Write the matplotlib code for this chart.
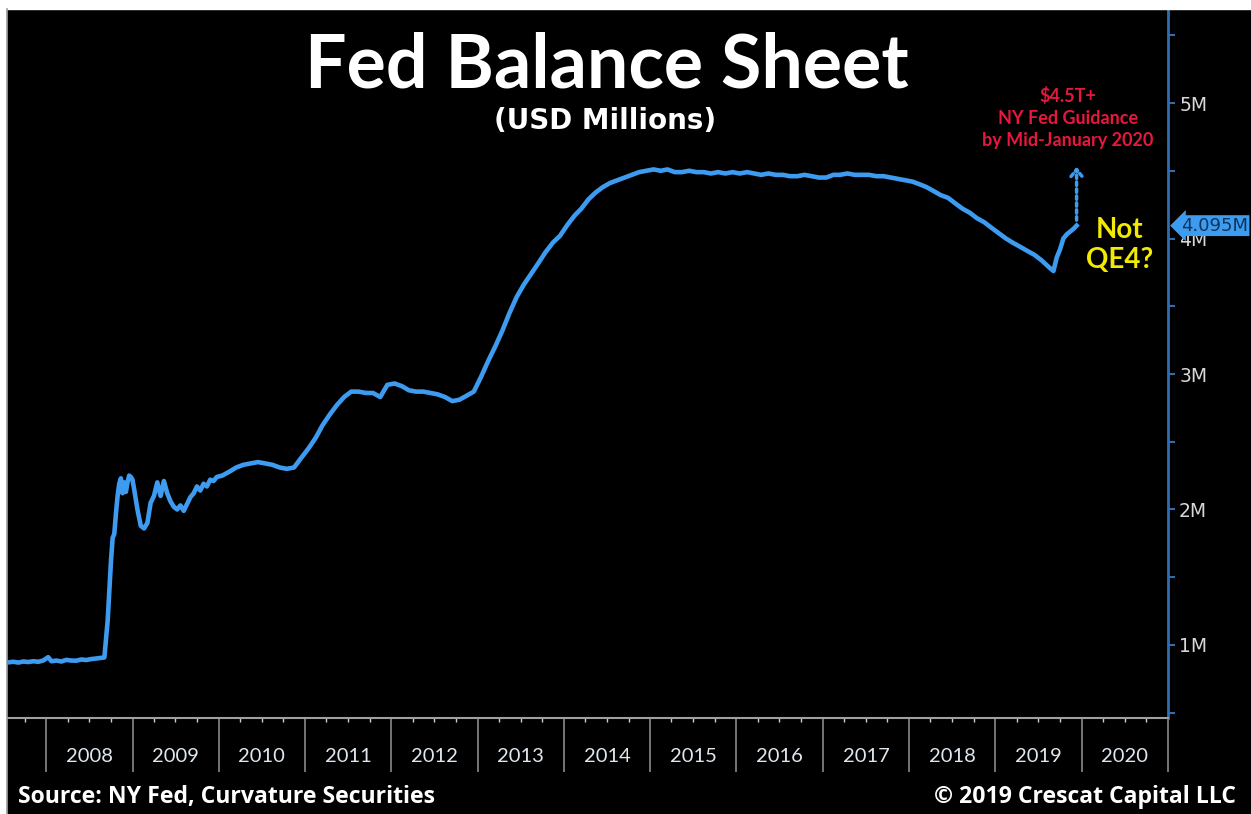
import numpy as np
import pandas as pd
import matplotlib
matplotlib.use("Agg")
import matplotlib.pyplot as plt
import matplotlib.dates as mdates
from matplotlib.patches import Rectangle
from matplotlib.lines import Line2D
from matplotlib.transforms import blended_transform_factory

# ---------- data (total assets, millions of USD millions) ----------
# crisis period, roughly weekly / bi-weekly readings
early_dates = [
    "2007-07-25", "2007-08-15", "2007-09-05", "2007-09-26", "2007-10-17",
    "2007-11-07", "2007-11-28", "2007-12-19", "2008-01-09", "2008-01-23",
    "2008-02-13", "2008-03-05", "2008-03-26", "2008-04-16", "2008-05-07",
    "2008-05-28", "2008-06-18", "2008-07-09", "2008-07-30", "2008-08-20",
    "2008-09-03", "2008-09-17", "2008-09-24", "2008-10-01", "2008-10-08",
    "2008-10-15", "2008-10-22", "2008-10-29", "2008-11-05", "2008-11-12",
    "2008-11-19", "2008-11-26", "2008-12-03", "2008-12-10", "2008-12-17",
    "2008-12-24", "2008-12-31", "2009-01-07", "2009-01-21", "2009-02-04",
    "2009-02-18", "2009-03-04", "2009-03-18", "2009-04-01", "2009-04-15",
    "2009-04-29", "2009-05-13", "2009-05-27", "2009-06-10", "2009-06-24",
    "2009-07-08", "2009-07-22", "2009-08-05", "2009-08-19", "2009-09-02",
    "2009-09-16", "2009-09-30", "2009-10-14", "2009-10-28", "2009-11-11",
    "2009-11-25", "2009-12-09", "2009-12-23",
]
early_values = [
    0.872, 0.876, 0.870, 0.878, 0.874,
    0.880, 0.876, 0.885, 0.910, 0.880,
    0.885, 0.878, 0.890, 0.885, 0.884,
    0.893, 0.889, 0.896, 0.900, 0.905,
    0.908, 1.18, 1.40, 1.62, 1.79,
    1.82, 1.97, 2.10, 2.19, 2.23,
    2.12, 2.20, 2.13, 2.20, 2.25,
    2.24, 2.22, 2.15, 2.00, 1.88,
    1.86, 1.90, 2.05, 2.10, 2.20,
    2.10, 2.21, 2.12, 2.06, 2.02,
    2.00, 2.03, 1.99, 2.04, 2.09,
    2.12, 2.17, 2.14, 2.19, 2.17,
    2.22, 2.21, 2.24,
]

# monthly readings, Jan 2010 - Aug 2019
monthly_values = [
    2.25, 2.28, 2.31, 2.33, 2.34, 2.35, 2.34, 2.33, 2.31, 2.30, 2.31, 2.38,   # 2010
    2.45, 2.53, 2.62, 2.70, 2.77, 2.83, 2.87, 2.87, 2.86, 2.86, 2.83, 2.92,   # 2011
    2.93, 2.91, 2.88, 2.87, 2.87, 2.86, 2.85, 2.83, 2.80, 2.81, 2.84, 2.87,   # 2012
    2.98, 3.10, 3.20, 3.32, 3.45, 3.57, 3.66, 3.74, 3.82, 3.90, 3.97, 4.02,   # 2013
    4.10, 4.17, 4.22, 4.29, 4.34, 4.38, 4.41, 4.43, 4.45, 4.47, 4.49, 4.50,   # 2014
    4.51, 4.50, 4.51, 4.49, 4.49, 4.50, 4.49, 4.49, 4.48, 4.49, 4.48, 4.49,   # 2015
    4.48, 4.49, 4.48, 4.47, 4.48, 4.47, 4.47, 4.46, 4.46, 4.47, 4.46, 4.45,   # 2016
    4.45, 4.47, 4.47, 4.48, 4.47, 4.47, 4.47, 4.46, 4.46, 4.45, 4.44, 4.43,   # 2017
    4.42, 4.40, 4.38, 4.35, 4.32, 4.30, 4.26, 4.22, 4.19, 4.15, 4.12, 4.08,   # 2018
    4.04, 4.00, 3.97, 3.94, 3.91, 3.88, 3.84, 3.79,                           # 2019
]

# repo operations restart the growth in late 2019
late_dates = ["2019-09-04", "2019-09-18", "2019-10-02", "2019-10-16",
              "2019-10-30", "2019-11-13", "2019-11-27", "2019-12-11"]
late_values = [3.76, 3.86, 3.92, 4.00, 4.03, 4.05, 4.07, 4.095]

last_value = late_values[-1]
guidance_value = 4.55

years = list(range(2008, 2021))
ytick_values = [1, 2, 3, 4, 5]
ytick_labels = ["1M", "2M", "3M", "4M", "5M"]

dates = (list(pd.to_datetime(early_dates))
         + list(pd.date_range("2010-01-01", periods=len(monthly_values), freq="MS")
                + pd.Timedelta(days=14))
         + list(pd.to_datetime(late_dates)))
values = early_values + monthly_values + late_values

# ---------- figure ----------
W, H = 1251, 814
fig = plt.figure(figsize=(W / 100, H / 100), dpi=100, facecolor="black")

# white border top / left
fig.patches.append(Rectangle((0, 1 - 9 / H), 1, 9 / H, transform=fig.transFigure,
                             color="white", zorder=0))
fig.patches.append(Rectangle((0, 0), 6 / W, 1, transform=fig.transFigure,
                             color="white", zorder=0))
fig.lines.append(Line2D([7 / W, 7 / W], [0, 1 - 9 / H], transform=fig.transFigure,
                        color="#9a9a9a", lw=1.2))

ax = fig.add_axes([8 / W, 96 / H, 1160 / W, (718 - 9) / H])
ax.set_facecolor("black")

blue = "#3d9bf0"
ax.plot(dates, values, color=blue, lw=3.3, solid_joinstyle="round", zorder=3)

ax.set_xlim(pd.Timestamp("2007-07-23"), pd.Timestamp("2021-01-01"))
ax.set_ylim(0.461, 5.694)

for s in ("top", "left"):
    ax.spines[s].set_visible(False)
ax.spines["bottom"].set_color("#a0a0a0")
ax.spines["bottom"].set_linewidth(1.5)
ax.spines["right"].set_color("#2e6db0")
ax.spines["right"].set_linewidth(2)

# x axis: long separators at year starts, short quarter ticks
ax.xaxis.set_major_locator(mdates.YearLocator())
ax.xaxis.set_minor_locator(mdates.MonthLocator(bymonth=(4, 7, 10)))
ax.xaxis.set_major_formatter(plt.NullFormatter())
ax.tick_params(axis="x", which="major", length=39, width=1.2, color="#8a8a8a")
ax.tick_params(axis="x", which="minor", length=3, width=1.0, color="#cfcfcf")

trans = blended_transform_factory(ax.transData, fig.transFigure)
for y in years:
    ax.text(pd.Timestamp(f"{y}-07-02"), 1 - 757 / H, str(y), transform=trans,
            ha="center", va="center", color="#dfe7ef", fontsize=14.5, family="Lato")

# y axis on the right
ax.yaxis.tick_right()
ax.set_yticks(ytick_values)
ax.set_yticklabels(ytick_labels)
ax.set_yticks(np.arange(0.5, 5.6, 1.0), minor=True)
ax.tick_params(axis="y", which="both", length=5, width=1.5, color="#2e6db0",
               labelcolor="#d8d8d8", labelsize=13.5, pad=3)

# last value marker on the axis
ax.text(1.0 + 13 / 1160, last_value, f"{last_value:.3f}M", transform=ax.get_yaxis_transform(),
        ha="left", va="center", color="#0f355c", fontsize=13, clip_on=False, zorder=6,
        bbox=dict(boxstyle="larrow,pad=0.08", fc=blue, ec="none"))

# dotted arrow toward the guidance level
ax.annotate("", xy=(dates[-1], guidance_value), xytext=(dates[-1], last_value + 0.02),
            arrowprops=dict(arrowstyle="->,head_length=0.5,head_width=0.4",
                            color=blue, lw=2.5, linestyle=(0, (1, 1))), zorder=4)

# ---------- text ----------
fig.text(607 / W, 1 - 66 / H, "Fed Balance Sheet", ha="center", va="center",
         color="white", fontsize=53, fontweight="bold", family="Lato")
fig.text(605 / W, 1 - 121 / H, "(USD Millions)", ha="center", va="center",
         color="white", fontsize=20, fontweight="bold", family="DejaVu Sans")

fig.text(1068 / W, 1 - 118 / H, "\\$4.5T+\nNY Fed Guidance\nby Mid-January 2020",
         ha="center", va="center", color="#e8173c", fontsize=13, linespacing=1.35,
         family="Lato", fontweight="bold")
fig.text(1120 / W, 1 - 245 / H, "Not\nQE4?", ha="center", va="center",
         color="#f2ea00", fontsize=20, fontweight="bold", linespacing=1.15, family="Lato")

fig.text(18 / W, 1 - 797 / H, "Source: NY Fed, Curvature Securities", ha="left",
         va="center", color="white", fontsize=16.6, fontweight="bold", family="Open Sans")
fig.text(1236 / W, 1 - 797 / H, "© 2019 Crescat Capital LLC", ha="right",
         va="center", color="white", fontsize=16.6, fontweight="bold", family="Open Sans")

fig.savefig("out.png", dpi=100, facecolor=fig.get_facecolor())
